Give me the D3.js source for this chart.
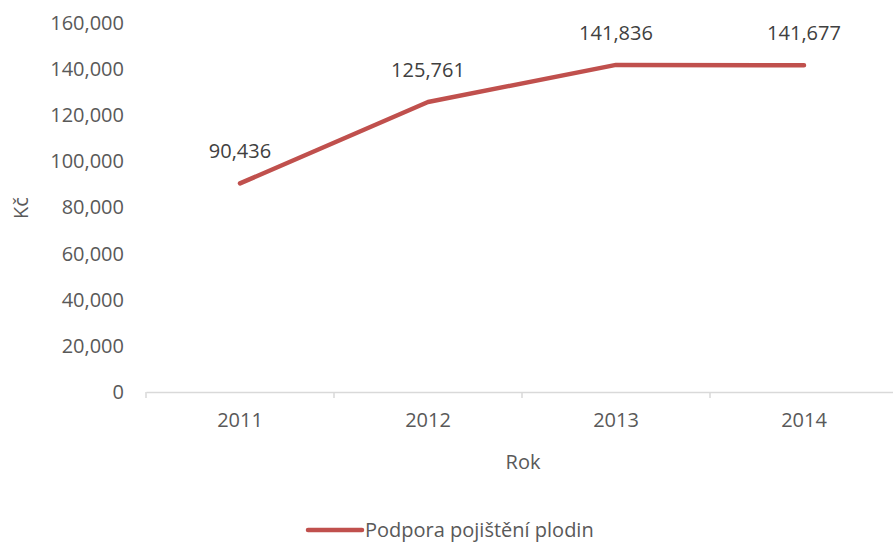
<!DOCTYPE html>
<html>
<head>
<meta charset="utf-8">
<script src="https://cdn.jsdelivr.net/npm/d3@7"></script>
<style>
  body { margin: 0; background: #fff; }
  text { font-family: "Open Sans", sans-serif; fill: #595959; }
</style>
</head>
<body>
<div id="chart"></div>
<script>
var years = ["2011", "2012", "2013", "2014"];
var values = [90436, 125761, 141836, 141677];
var yTicks = [0, 20000, 40000, 60000, 80000, 100000, 120000, 140000, 160000];
var seriesName = "Podpora pojištění plodin";

var width = 893, height = 543;
var lineColor = "#c0504d";
var fs = "20px";

var svg = d3.select("#chart").append("svg")
  .attr("width", width)
  .attr("height", height);

var x = d3.scaleBand()
  .domain(years)
  .range([146, 898]);

var y = d3.scaleLinear()
  .domain([0, 160000])
  .range([392, 23]);

var fmt = d3.format(",");

// y axis labels (no axis line)
var yAxis = svg.append("g")
  .attr("transform", "translate(146,0)")
  .call(d3.axisLeft(y).tickValues(yTicks).tickFormat(fmt).tickSize(0).tickPadding(22));
yAxis.select(".domain").remove();
yAxis.selectAll("text")
  .style("font-size", fs)
  .attr("fill", "#595959");

// x axis
var xAxis = svg.append("g")
  .attr("transform", "translate(0,392)")
  .call(d3.axisBottom(x).tickSize(0).tickPadding(21));
xAxis.select(".domain").attr("stroke", "#d9d9d9").attr("stroke-width", 1.5);
xAxis.selectAll("text")
  .style("font-size", fs)
  .attr("fill", "#595959");

// tick marks between categories
svg.append("g").selectAll("line")
  .data(years.concat(["end"]))
  .enter().append("line")
  .attr("x1", function(d, i){ return x.range()[0] + i * x.bandwidth(); })
  .attr("x2", function(d, i){ return x.range()[0] + i * x.bandwidth(); })
  .attr("y1", 392)
  .attr("y2", 398)
  .attr("stroke", "#d9d9d9")
  .attr("stroke-width", 1.5);

// axis titles
svg.append("text")
  .attr("transform", "translate(28,208) rotate(-90)")
  .attr("text-anchor", "middle")
  .style("font-size", fs)
  .text("Kč");

svg.append("text")
  .attr("x", 523)
  .attr("y", 469)
  .attr("text-anchor", "middle")
  .style("font-size", fs)
  .text("Rok");

// line
var line = d3.line()
  .x(function(d, i){ return x(years[i]) + x.bandwidth() / 2; })
  .y(function(d){ return y(d); });

svg.append("path")
  .datum(values)
  .attr("d", line)
  .attr("fill", "none")
  .attr("stroke", lineColor)
  .attr("stroke-width", 4.5)
  .attr("stroke-linecap", "round")
  .attr("stroke-linejoin", "round");

// data labels
svg.append("g").selectAll("text")
  .data(values)
  .enter().append("text")
  .attr("x", function(d, i){ return x(years[i]) + x.bandwidth() / 2; })
  .attr("y", function(d){ return y(d) - 25; })
  .attr("text-anchor", "middle")
  .style("font-size", fs)
  .style("fill", "#404040")
  .text(function(d){ return fmt(d); });

// legend
var legend = svg.append("g").attr("transform", "translate(0,530)");
legend.append("line")
  .attr("x1", 308).attr("x2", 362)
  .attr("y1", 0).attr("y2", 0)
  .attr("stroke", lineColor)
  .attr("stroke-width", 4.5)
  .attr("stroke-linecap", "round");
legend.append("text")
  .attr("x", 365)
  .attr("y", 7)
  .style("font-size", fs)
  .text(seriesName);
</script>
</body>
</html>
